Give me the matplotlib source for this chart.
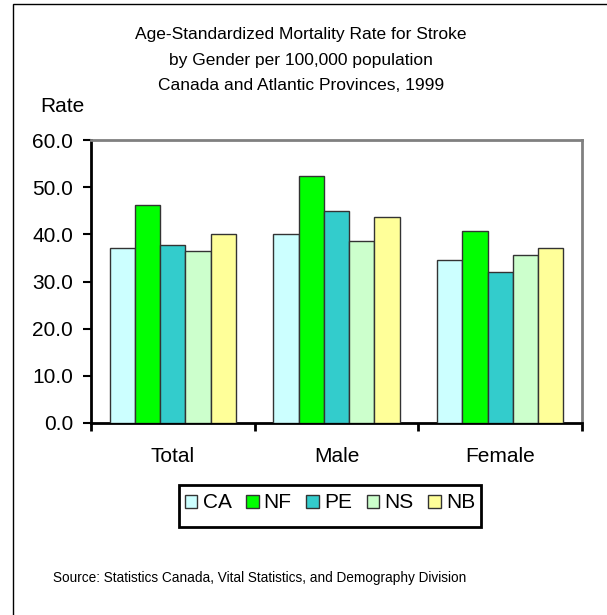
import numpy as np
import matplotlib.pyplot as plt
from matplotlib.patches import Rectangle

plt.rcParams['font.family'] = ['Liberation Sans', 'DejaVu Sans']

# data
groups = ['Total', 'Male', 'Female']
provinces = ['CA', 'NF', 'PE', 'NS', 'NB']
rates = {
    'CA': [37.1, 40.0, 34.6],
    'NF': [46.3, 52.3, 40.8],
    'PE': [37.8, 45.0, 32.0],
    'NS': [36.4, 38.6, 35.7],
    'NB': [40.0, 43.6, 37.1],
}
colors = ['#CCFFFF', '#00FF00', '#33CCCC', '#CCFFCC', '#FFFF99']
yticks = [0, 10, 20, 30, 40, 50, 60]
title_lines = ['Age-Standardized Mortality Rate for Stroke',
               'by Gender per 100,000 population',
               'Canada and Atlantic Provinces, 1999']

W, H = 607, 615
fig = plt.figure(figsize=(W / 100, H / 100), dpi=100)
ax = fig.add_axes([91 / W, 1 - 423 / H, 491 / W, 283 / H])

# outer frame (only left/top edges are inside the picture)
fig.patches.append(Rectangle((13 / W, -0.1), 1.2, 1 - 4 / H + 0.1,
                             transform=fig.transFigure, fill=False,
                             edgecolor='black', linewidth=1))

x = np.arange(len(groups))
w = 0.154
for i, p in enumerate(provinces):
    ax.bar(x - 2 * w + i * w, rates[p], w, color=colors[i], edgecolor='#333333',
           linewidth=1, label=p, zorder=3)

ax.set_xlim(-0.5, 2.5)
ax.set_ylim(0, 60)
ax.set_yticks(yticks)
ax.set_yticklabels(['%.1f' % v for v in yticks], fontsize=15)
ax.set_xticks([-0.5, 0.5, 1.5, 2.5])
ax.set_xticklabels([])
ax.tick_params(axis='y', direction='out', length=6, width=1.5, pad=7)
ax.tick_params(axis='x', direction='out', length=6, width=2)
for g, xc in zip(groups, x):
    ax.text(xc, -7.2, g, ha='center', va='center', fontsize=15)

ax.spines['left'].set_linewidth(2)
ax.spines['bottom'].set_linewidth(2)
for s in ['top', 'right']:
    ax.spines[s].set_color('#808080')
    ax.spines[s].set_linewidth(2)

for k, line in enumerate(title_lines):
    fig.text(301 / W, 1 - (34 + 26 * k) / H, line, ha='center', va='center',
             fontsize=12.5)
fig.text(40 / W, 1 - 106 / H, 'Rate', ha='left', va='center', fontsize=15)

leg = fig.legend(loc='center', bbox_to_anchor=(330 / W, 1 - 503 / H), ncol=5,
                 fontsize=15, frameon=False, handlelength=0.6,
                 handleheight=0.6, handletextpad=0.25, columnspacing=0.7,
                 borderpad=0, borderaxespad=0)
for h in leg.legend_handles:
    h.set_edgecolor('#333333')
fig.patches.append(Rectangle((179 / W, 1 - 527 / H), 302 / W, 42 / H,
                             transform=fig.transFigure, fill=False,
                             edgecolor='black', linewidth=2))

fig.text(53 / W, 1 - 578 / H,
         'Source: Statistics Canada, Vital Statistics, and Demography Division',
         ha='left', va='center', fontsize=9.8)

plt.savefig('out.png', dpi=100)
